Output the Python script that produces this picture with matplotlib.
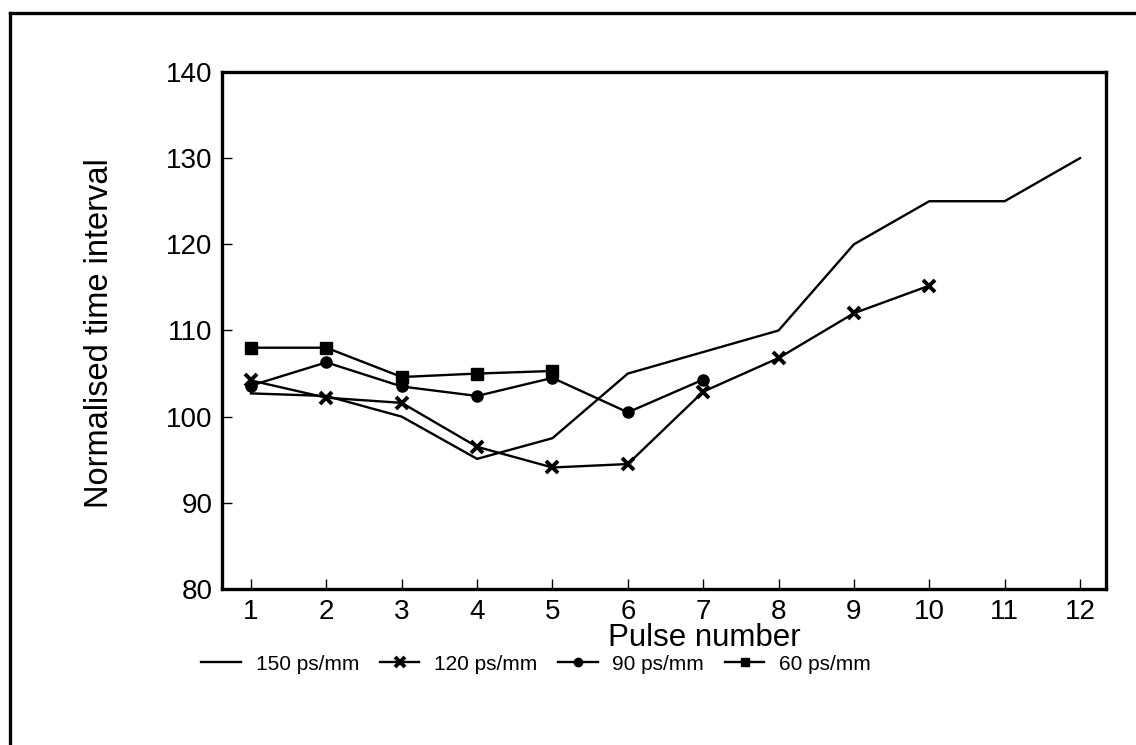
import numpy as np
import matplotlib.pyplot as plt
from matplotlib.lines import Line2D

plt.rcParams['font.family'] = ['Liberation Sans', 'DejaVu Sans']

pulse = np.arange(1, 13)
v150 = [102.7, 102.4, 100.0, 95.1, 97.5, 105.0, 107.5, 110.0, 120.0, 125.0, 125.0, 130.0]
v120 = [104.2, 102.2, 101.6, 96.5, 94.1, 94.5, 102.9, 106.8, 112.0, 115.2]
v90 = [103.6, 106.3, 103.5, 102.4, 104.5, 100.5, 104.3]
v60 = [108.0, 108.0, 104.6, 105.0, 105.3]
labels = ["150 ps/mm", "120 ps/mm", "90 ps/mm", "60 ps/mm"]
yticks = [80, 90, 100, 110, 120, 130, 140]

fig = plt.figure(figsize=(11.36, 7.45), dpi=100)
ax = fig.add_axes([0.1954, 0.2094, 0.7782, 0.694])

lw = 1.7
ax.plot(pulse, v150, color="k", lw=lw, label=labels[0])
ax.plot(pulse[:len(v120)], v120, color="k", lw=lw, marker="x", ms=9, mew=2.8, label=labels[1])
ax.plot(pulse[:len(v90)], v90, color="k", lw=lw, marker="o", ms=8, label=labels[2])
ax.plot(pulse[:len(v60)], v60, color="k", lw=lw, marker="s", ms=8, label=labels[3])

ax.set_xlim(0.615, 12.345)
ax.set_ylim(80, 140)
ax.set_xticks(pulse)
ax.set_yticks(yticks)
ax.tick_params(direction="in", length=7, width=1, labelsize=20, pad=7, top=False, right=False)
for s in ax.spines.values():
    s.set_linewidth(2.4)

fig.text(0.62, 1 - 638 / 745, "Pulse number", fontsize=22.5, ha="center", va="center")
fig.text(100 / 1136, 1 - 333 / 745, "Normalised time interval", fontsize=23.5,
         rotation=90, ha="center", va="center")

fig.legend(loc="center", bbox_to_anchor=(536 / 1136, 1 - 664 / 745), ncol=4, frameon=False,
           fontsize=15, handlelength=1.9, columnspacing=1.0, handletextpad=0.7,
           markerscale=0.75)

# outer frame (only left and top edges visible)
fig.add_artist(Line2D([10 / 1136, 10 / 1136], [0, 1 - 13 / 745], color="k", lw=2.4, transform=fig.transFigure))
fig.add_artist(Line2D([10 / 1136, 1], [1 - 13 / 745, 1 - 13 / 745], color="k", lw=2.4, transform=fig.transFigure))

plt.savefig("out.png", dpi=100)
